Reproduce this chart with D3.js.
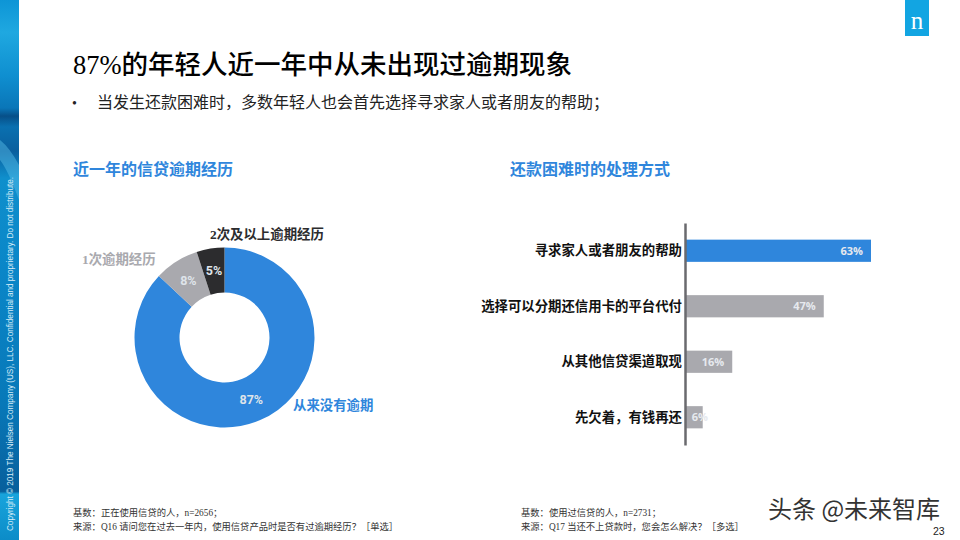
<!DOCTYPE html>
<html>
<head>
<meta charset="utf-8">
<script src="https://cdnjs.cloudflare.com/ajax/libs/d3/7.8.5/d3.min.js"></script>
<style>
  html, body { margin: 0; padding: 0; background: #fff; }
  svg { display: block; }
  text { font-family: "Liberation Serif", "Noto Sans CJK SC", serif; }
</style>
</head>
<body>
<div id="chart"></div>
<script>
// donut: overdue history
const donutNames = ["从来没有逾期", "1次逾期经历", "2次及以上逾期经历"];
const donutValues = [87, 8, 5];

// bars: how people handle repayment trouble
const barNames = ["寻求家人或者朋友的帮助", "选择可以分期还信用卡的平台代付", "从其他信贷渠道取现", "先欠着，有钱再还"];
const barValues = [63, 47, 16, 6];

const BLUE = "#2f86dc", GREY = "#a9a9ae", DARK = "#2c2c2e";

const svg = d3.select("#chart").append("svg")
  .attr("width", 960)
  .attr("height", 540);

// ---------- left strip ----------
const defs = svg.append("defs");
const strip = defs.append("linearGradient")
  .attr("id", "strip").attr("x1", 0).attr("y1", 0).attr("x2", 0).attr("y2", 1);
[[0, "#0d95d6"], [0.06, "#1fa8e0"], [0.14, "#0f8fd0"], [0.2, "#0a76b8"], [0.215, "#074f88"], [0.235, "#0a70b0"],
 [0.28, "#0a5f9e"], [0.33, "#0f8fcc"], [0.5, "#0a86c8"], [0.75, "#0878b8"], [0.91, "#075f9c"], [0.915, "#18a4dc"], [1, "#0c8cc8"]]
  .forEach(s => strip.append("stop").attr("offset", s[0]).attr("stop-color", s[1]));

svg.append("rect").attr("width", 19).attr("height", 540).attr("fill", "url(#strip)");
// pale wave across the strip
svg.append("path")
  .attr("d", "M0,140 Q10,148 19,165 L19,200 Q8,170 0,160 Z")
  .attr("fill", "#5cc0ea")
  .attr("opacity", 0.45);

svg.append("text")
  .attr("transform", "translate(12.5,531) rotate(-90)")
  .style("font-family", "'Liberation Sans', sans-serif")
  .style("font-size", "8.2px")
  .attr("fill", "#d4ebf7")
  .attr("textLength", 354)
  .text("Copyright © 2019 The Nielsen Company (US), LLC. Confidential and proprietary. Do not distribute.");

// ---------- logo ----------
svg.append("rect").attr("x", 905).attr("y", 0).attr("width", 24).attr("height", 36).attr("fill", "#12a5e2");
svg.append("text")
  .attr("x", 917).attr("y", 29)
  .attr("text-anchor", "middle")
  .style("font-family", "'Liberation Serif', serif")
  .style("font-size", "25px")
  .attr("fill", "#fff")
  .text("n");

// ---------- headings ----------
svg.append("text").attr("x", 73).attr("y", 74)
  .style("font-size", "26.5px").style("font-weight", 500).attr("fill", "#000")
  .text("87%的年轻人近一年中从未出现过逾期现象");

svg.append("text").attr("x", 72).attr("y", 108)
  .style("font-size", "14px").attr("fill", "#222").text("•");
svg.append("text").attr("x", 97).attr("y", 108)
  .style("font-size", "16px").attr("fill", "#222")
  .text("当发生还款困难时，多数年轻人也会首先选择寻求家人或者朋友的帮助；");

svg.append("text").attr("x", 73).attr("y", 175)
  .style("font-size", "16px").style("font-weight", 700).attr("fill", BLUE)
  .text("近一年的信贷逾期经历");
svg.append("text").attr("x", 510).attr("y", 175)
  .style("font-size", "16px").style("font-weight", 700).attr("fill", BLUE)
  .text("还款困难时的处理方式");

// ---------- donut ----------
const donutColor = d3.scaleOrdinal().domain(donutNames).range([BLUE, GREY, DARK]);
const pie = d3.pie().sort(null).value(d => d.value);
const arc = d3.arc().innerRadius(45).outerRadius(90);

const donut = svg.append("g").attr("transform", "translate(224.5,337.5)");
const slices = pie(donutNames.map((name, i) => ({ name, value: donutValues[i] })));

donut.selectAll("path")
  .data(slices)
  .enter()
  .append("path")
  .attr("d", arc)
  .attr("fill", d => donutColor(d.data.name));

donut.selectAll(".pct")
  .data(slices)
  .enter()
  .append("text")
  .attr("class", "pct")
  .attr("transform", d => `translate(${arc.centroid(d)})`)
  .attr("text-anchor", "middle")
  .attr("dy", "0.36em")
  .style("font-family", "Roboto, sans-serif")
  .style("font-size", "12.5px")
  .style("font-weight", 700)
  .attr("fill", "#dfe4ea")
  .text(d => d.data.value + "%");

// callout names sit outside the ring
const calloutAt = [[293, 410], [82, 264], [210, 239]];
svg.selectAll(".callout")
  .data(donutNames)
  .enter()
  .append("text")
  .attr("class", "callout")
  .attr("x", (d, i) => calloutAt[i][0])
  .attr("y", (d, i) => calloutAt[i][1])
  .style("font-size", "13.4px")
  .style("font-weight", 700)
  .attr("fill", d => donutColor(d))
  .text(d => d);

// ---------- bars ----------
const axisX = 685;
const x = d3.scaleLinear().domain([0, 63]).range([axisX, 871]);
const y = d3.scaleBand().domain(barNames).range([223, 445]).paddingInner(0.6).paddingOuter(0.3);

const rows = barNames.map((name, i) => ({ name, value: barValues[i] }));

svg.selectAll(".bar")
  .data(rows)
  .enter()
  .append("rect")
  .attr("class", "bar")
  .attr("x", axisX)
  .attr("y", d => y(d.name))
  .attr("width", d => x(d.value) - axisX)
  .attr("height", y.bandwidth())
  .attr("fill", (d, i) => i === 0 ? BLUE : GREY);

svg.selectAll(".bar-label")
  .data(rows)
  .enter()
  .append("text")
  .attr("class", "bar-label")
  .attr("x", d => Math.max(x(d.value) - 8, axisX + 23))
  .attr("y", d => y(d.name) + y.bandwidth() / 2)
  .attr("dy", "0.36em")
  .attr("text-anchor", "end")
  .style("font-family", "'Open Sans', sans-serif")
  .style("font-size", "11px")
  .style("font-weight", 700)
  .attr("fill", "#e6e9ee")
  .text(d => d.value + "%");

const yAxis = svg.append("g")
  .attr("transform", `translate(${axisX},0)`)
  .call(d3.axisLeft(y).tickSize(0).tickPadding(3));
yAxis.select(".domain").attr("stroke", "#6a6a6e").attr("stroke-width", 2.5);
yAxis.selectAll("text")
  .style("font-family", "'Noto Sans CJK SC', sans-serif")
  .style("font-size", "13.4px")
  .style("font-weight", 700)
  .attr("fill", "#111");

// ---------- footnotes ----------
const notes = [
  [73, 516, "基数：正在使用信贷的人，n=2656；"],
  [73, 530, "来源：Q16 请问您在过去一年内，使用信贷产品时是否有过逾期经历？［单选］"],
  [521, 516, "基数：使用过信贷的人，n=2731；"],
  [521, 530, "来源：Q17 当还不上贷款时，您会怎么解决？［多选］"]
];
svg.selectAll(".note")
  .data(notes)
  .enter()
  .append("text")
  .attr("class", "note")
  .attr("x", d => d[0])
  .attr("y", d => d[1])
  .style("font-size", "9.3px")
  .attr("fill", "#333")
  .text(d => d[2]);

// ---------- watermark + page number ----------
// nudged apart a little so the two do not collide
svg.append("text").attr("x", 768).attr("y", 518)
  .style("font-family", "'Noto Sans CJK SC', sans-serif")
  .style("font-size", "24px")
  .attr("fill", "#333")
  .text("头条 @未来智库");
svg.append("text").attr("x", 933).attr("y", 535)
  .style("font-family", "'Liberation Sans', sans-serif")
  .style("font-size", "10.5px")
  .attr("fill", "#222")
  .text("23");
</script>
</body>
</html>
